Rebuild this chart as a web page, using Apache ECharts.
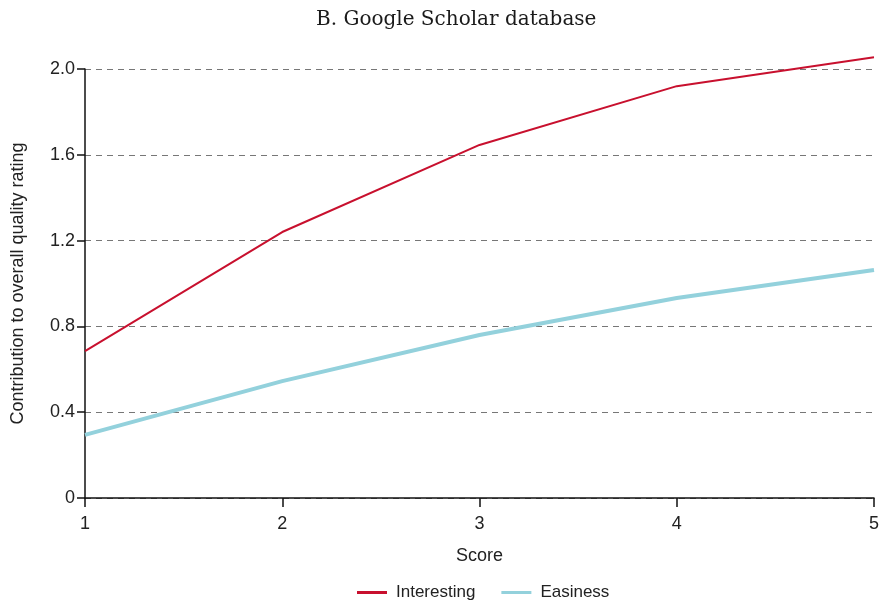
<!DOCTYPE html>
<html>
<head>
<meta charset="utf-8">
<script src="https://cdn.jsdelivr.net/npm/echarts@6/dist/echarts.min.js"></script>
<style>
  html, body { margin: 0; padding: 0; background: #fff; }
  #chart { width: 880px; height: 603px; }
</style>
</head>
<body>
<div id="chart"></div>
<script>
// 数据
var scores = [1, 2, 3, 4, 5]
var interesting = [0.685, 1.24, 1.646, 1.92, 2.055]
var easiness = [0.294, 0.545, 0.76, 0.932, 1.063]
var yTicks = [0, 0.4, 0.8, 1.2, 1.6, 2.0]

var sansFont = "'Liberation Sans Narrow', 'Liberation Sans', sans-serif"

var myChart = echarts.init(document.getElementById('chart'))

function pairs(values) {
  return scores.map(function (s, i) { return [s, values[i]] })
}

var option = {
  animation: false,
  title: {
    text: 'B. Google Scholar database',
    left: 311,
    top: 5,
    textStyle: {
      fontFamily: "'DejaVu Serif', serif",
      fontWeight: 'normal',
      fontSize: 20,
      color: '#1a1a1a'
    }
  },
  grid: { left: 85, right: 6, top: 69, bottom: 105, outerBoundsMode: 'none', containLabel: false },
  legend: {
    bottom: -3,
    left: 352,
    itemWidth: 30,
    itemHeight: 3,
    itemGap: 26,
    icon: 'rect',
    textStyle: { fontFamily: sansFont, fontSize: 17, color: '#222', padding: [0, 0, 0, 4] },
    data: ['Interesting', 'Easiness']
  },
  xAxis: {
    type: 'value',
    min: 1,
    max: 5,
    interval: 1,
    name: 'Score',
    nameLocation: 'middle',
    nameGap: 49,
    nameTextStyle: { fontFamily: sansFont, fontSize: 18, color: '#222' },
    axisLine: { lineStyle: { color: '#111', width: 1.5 } },
    axisTick: { show: true, length: 9, lineStyle: { color: '#111', width: 1.5 } },
    axisLabel: { fontFamily: sansFont, fontSize: 18, color: '#222', margin: 17 },
    splitLine: { show: false }
  },
  yAxis: {
    type: 'value',
    min: 0,
    max: 2.0,
    interval: 0.4,
    name: 'Contribution to overall quality rating',
    nameLocation: 'middle',
    nameGap: 58,
    nameTextStyle: { fontFamily: sansFont, fontSize: 18, color: '#222' },
    axisLine: { show: true, lineStyle: { color: '#111', width: 1.5 } },
    axisTick: { show: true, length: 8, lineStyle: { color: '#111', width: 1.5 } },
    axisLabel: {
      fontFamily: sansFont,
      fontSize: 18,
      color: '#222',
      margin: 10,
      formatter: function (v) {
        var idx = yTicks.indexOf(+v.toFixed(1))
        if (v === 0) return '0'
        return idx >= 0 ? yTicks[idx].toFixed(1) : ''
      }
    },
    splitLine: { show: true, lineStyle: { color: '#777', type: [6, 5], width: 1 } }
  },
  series: [
    {
      name: 'Interesting',
      type: 'line',
      data: pairs(interesting),
      showSymbol: false,
      clip: false,
      lineStyle: { color: '#c8102e', width: 2 },
      itemStyle: { color: '#c8102e' },
      z: 3
    },
    {
      name: 'Easiness',
      type: 'line',
      data: pairs(easiness),
      showSymbol: false,
      clip: false,
      lineStyle: { color: '#93d1dc', width: 4 },
      itemStyle: { color: '#93d1dc' },
      z: 2
    }
  ]
}

myChart.setOption(option)
</script>
</body>
</html>
